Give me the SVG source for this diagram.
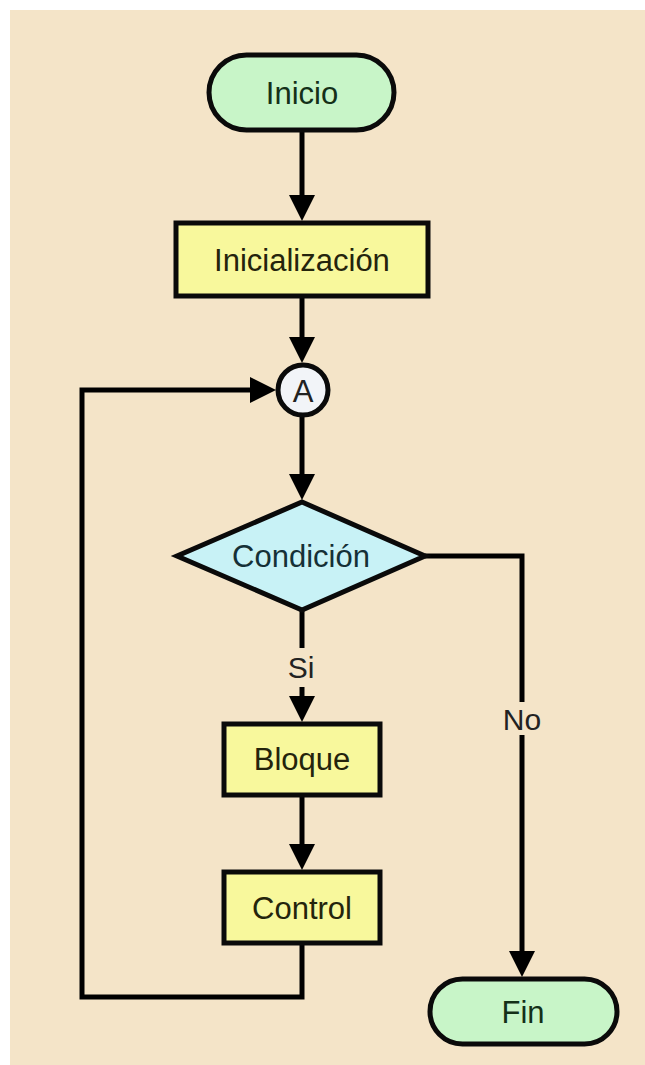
<svg xmlns="http://www.w3.org/2000/svg" width="645" height="1065" viewBox="0 0 645 1065">
<defs>
<marker id="ah" markerUnits="userSpaceOnUse" markerWidth="27" markerHeight="26" refX="15" refY="13" orient="auto">
<path d="M0,0 L26,13 L0,26 z" fill="#000"/>
</marker>
<style>
.term{fill:#c8f5c8;stroke:#0a0a0a;stroke-width:5}
.proc{fill:#f8f89c;stroke:#0a0a0a;stroke-width:5}
.dec{fill:#c8f2f6;stroke:#0a0a0a;stroke-width:5}
.conn{fill:#f2f4f8;stroke:#0a0a0a;stroke-width:5}
.edge{fill:none;stroke:#000;stroke-width:5}
text{font-family:"Liberation Sans",Arial,sans-serif;font-size:31px;text-anchor:middle;dominant-baseline:central}
.tg{fill:#143018}
.ty{fill:#24240c}
.tc{fill:#153036}
.tl{fill:#222222}
.small{font-size:30px}
</style>
</defs>
<rect x="0" y="0" width="645" height="1065" fill="#ffffff"/>
<rect x="10" y="10" width="635" height="1055" fill="#f4e4c8"/>
<g id="connectors">
<line class="edge" x1="302" y1="130" x2="302" y2="210" marker-end="url(#ah)"/>
<line class="edge" x1="302" y1="296" x2="302" y2="352" marker-end="url(#ah)"/>
<line class="edge" x1="302" y1="415" x2="302" y2="489" marker-end="url(#ah)"/>
<line class="edge" x1="302" y1="610" x2="302" y2="648"/>
<line class="edge" x1="302" y1="687" x2="302" y2="711" marker-end="url(#ah)"/>
<line class="edge" x1="302" y1="795" x2="302" y2="859" marker-end="url(#ah)"/>
<polyline class="edge" points="302,943 302,997 82,997 82,390 265,390" marker-end="url(#ah)"/>
<polyline class="edge" points="425,556 522,556 522,702"/>
<line class="edge" x1="522" y1="735" x2="522" y2="966" marker-end="url(#ah)"/>
<text class="tl small" x="301" y="667">Si</text>
<text class="tl small" x="522" y="719">No</text>
</g>
<g id="inicio">
<rect class="term" x="209" y="55" width="185" height="75" rx="37.5"/>
<text class="tg" x="302" y="93">Inicio</text>
</g>
<g id="inicializacion">
<rect class="proc" x="176" y="223" width="252" height="73"/>
<text class="ty" x="302" y="260">Inicialización</text>
</g>
<g id="a">
<circle class="conn" cx="303" cy="390" r="25"/>
<text class="tl" x="303" y="391">A</text>
</g>
<g id="condicion">
<polygon class="dec" points="302,502 425,556 302,610 177,556"/>
<text class="tc" x="301" y="556">Condición</text>
</g>
<g id="bloque">
<rect class="proc" x="224" y="724" width="156" height="71"/>
<text class="ty" x="302" y="759">Bloque</text>
</g>
<g id="control">
<rect class="proc" x="224" y="872" width="156" height="71"/>
<text class="ty" x="302" y="908">Control</text>
</g>
<g id="fin">
<rect class="term" x="430" y="979" width="187" height="65" rx="32.5"/>
<text class="tg" x="523" y="1012">Fin</text>
</g>
</svg>
